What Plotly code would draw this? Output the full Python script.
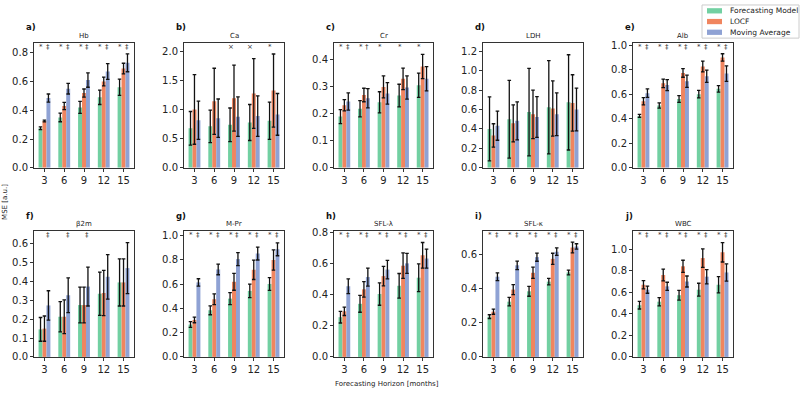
import plotly.graph_objects as go

horizons = ["3", "6", "9", "12", "15"]
series_names = ["Forecasting Model", "LOCF", "Moving Average"]
colors = ["#72d0a2", "#f0855f", "#8fa2d4"]

titles = ["Hb", "Ca", "Cr", "LDH", "Alb", "β2m", "M-Pr", "SFL-λ", "SFL-κ", "WBC"]
letters = ["a)", "b)", "c)", "d)", "e)", "f)", "g)", "h)", "i)", "j)"]

# mean values [model, locf, moving average] per panel
hb_fm = [0.275, 0.35, 0.42, 0.49, 0.56]
hb_locf = [0.325, 0.43, 0.52, 0.60, 0.69]
hb_ma = [0.485, 0.55, 0.61, 0.67, 0.73]
hb_fm_e = [0.01, 0.03, 0.042, 0.05, 0.056]
hb_locf_e = [0.006, 0.025, 0.028, 0.03, 0.037]
hb_ma_e = [0.028, 0.037, 0.05, 0.055, 0.062]

ca_fm = [0.68, 0.715, 0.74, 0.78, 0.81]
ca_locf = [1.005, 1.145, 1.20, 1.28, 1.33]
ca_ma = [0.82, 0.855, 0.88, 0.89, 0.92]
ca_fm_e = [0.29, 0.28, 0.29, 0.31, 0.32]
ca_locf_e = [0.60, 0.57, 0.57, 0.60, 0.63]
ca_ma_e = [0.33, 0.33, 0.34, 0.35, 0.36]

cr_fm = [0.19, 0.219, 0.243, 0.268, 0.306]
cr_locf = [0.232, 0.27, 0.30, 0.33, 0.376]
cr_ma = [0.246, 0.258, 0.276, 0.298, 0.33]
cr_fm_e = [0.026, 0.03, 0.039, 0.042, 0.045]
cr_locf_e = [0.021, 0.025, 0.041, 0.04, 0.045]
cr_ma_e = [0.032, 0.036, 0.04, 0.043, 0.045]

ldh_fm = [0.40, 0.50, 0.573, 0.623, 0.673]
ldh_locf = [0.333, 0.457, 0.55, 0.61, 0.667]
ldh_ma = [0.433, 0.483, 0.523, 0.55, 0.60]
ldh_fm_e = [0.33, 0.40, 0.45, 0.48, 0.49]
ldh_locf_e = [0.12, 0.19, 0.25, 0.285, 0.29]
ldh_ma_e = [0.15, 0.195, 0.21, 0.22, 0.22]

alb_fm = [0.424, 0.509, 0.562, 0.602, 0.645]
alb_locf = [0.544, 0.69, 0.775, 0.828, 0.902]
alb_ma = [0.61, 0.676, 0.708, 0.748, 0.77]
alb_fm_e = [0.012, 0.022, 0.027, 0.03, 0.027]
alb_locf_e = [0.03, 0.035, 0.035, 0.044, 0.03]
alb_ma_e = [0.035, 0.045, 0.05, 0.05, 0.063]

b2m_fm = [0.146, 0.213, 0.275, 0.335, 0.395]
b2m_locf = [0.15, 0.213, 0.275, 0.339, 0.395]
b2m_ma = [0.273, 0.327, 0.373, 0.425, 0.471]
b2m_fm_e = [0.063, 0.08, 0.095, 0.115, 0.125]
b2m_locf_e = [0.067, 0.09, 0.095, 0.12, 0.125]
b2m_ma_e = [0.078, 0.092, 0.103, 0.118, 0.135]

mpr_fm = [0.267, 0.385, 0.481, 0.545, 0.602]
mpr_locf = [0.305, 0.476, 0.62, 0.719, 0.80]
mpr_ma = [0.615, 0.722, 0.807, 0.853, 0.888]
mpr_fm_e = [0.024, 0.037, 0.05, 0.056, 0.053]
mpr_locf_e = [0.023, 0.044, 0.07, 0.08, 0.084]
mpr_ma_e = [0.03, 0.044, 0.053, 0.053, 0.053]

sfll_fm = [0.255, 0.341, 0.404, 0.457, 0.509]
sfll_locf = [0.293, 0.434, 0.519, 0.586, 0.653]
sfll_ma = [0.454, 0.513, 0.561, 0.601, 0.632]
sfll_fm_e = [0.037, 0.054, 0.072, 0.079, 0.089]
sfll_locf_e = [0.027, 0.05, 0.063, 0.082, 0.082]
sfll_ma_e = [0.047, 0.058, 0.059, 0.064, 0.061]

sflk_fm = [0.237, 0.325, 0.386, 0.443, 0.497]
sflk_locf = [0.266, 0.396, 0.495, 0.577, 0.644]
sflk_ma = [0.472, 0.539, 0.587, 0.619, 0.65]
sflk_fm_e = [0.011, 0.025, 0.029, 0.019, 0.014]
sflk_locf_e = [0.015, 0.029, 0.033, 0.033, 0.032]
sflk_ma_e = [0.023, 0.025, 0.024, 0.022, 0.016]

wbc_fm = [0.479, 0.512, 0.572, 0.623, 0.669]
wbc_locf = [0.669, 0.759, 0.84, 0.916, 0.97]
wbc_ma = [0.623, 0.654, 0.699, 0.744, 0.783]
wbc_fm_e = [0.035, 0.038, 0.045, 0.06, 0.075]
wbc_locf_e = [0.039, 0.054, 0.056, 0.086, 0.09]
wbc_ma_e = [0.033, 0.038, 0.051, 0.066, 0.08]

# significance markers per horizon: (vs LOCF, vs Moving Average)
sig_hb = ["*‡", "*‡", "*‡", "*‡", "*‡"]
sig_ca = ["  ", "  ", "× ", "× ", "* "]
sig_cr = ["*‡", "*†", "* ", "* ", "* "]
sig_ldh = ["  ", "  ", "  ", "  ", "  "]
sig_alb = ["*‡", "*‡", "*‡", "*‡", "*‡"]
sig_b2m = [" ‡", " ‡", " ‡", "  ", "  "]
sig_mpr = ["*‡", "*‡", "*‡", "*‡", "*‡"]
sig_sfll = ["*‡", "*‡", "*‡", "*‡", "*‡"]
sig_sflk = ["*‡", "*‡", "*‡", "*‡", "*‡"]
sig_wbc = ["*‡", "*‡", "*‡", "*‡", "*‡"]

yticks_step = [0.2, 0.5, 0.1, 0.2, 0.2, 0.1, 0.2, 0.2, 0.2, 0.2]
ymax = [0.868, 2.15, 0.463, 1.284, 1.02, 0.667, 1.038, 0.808, 0.74, 1.166]

panels = [
    (hb_fm, hb_locf, hb_ma, hb_fm_e, hb_locf_e, hb_ma_e, sig_hb),
    (ca_fm, ca_locf, ca_ma, ca_fm_e, ca_locf_e, ca_ma_e, sig_ca),
    (cr_fm, cr_locf, cr_ma, cr_fm_e, cr_locf_e, cr_ma_e, sig_cr),
    (ldh_fm, ldh_locf, ldh_ma, ldh_fm_e, ldh_locf_e, ldh_ma_e, sig_ldh),
    (alb_fm, alb_locf, alb_ma, alb_fm_e, alb_locf_e, alb_ma_e, sig_alb),
    (b2m_fm, b2m_locf, b2m_ma, b2m_fm_e, b2m_locf_e, b2m_ma_e, sig_b2m),
    (mpr_fm, mpr_locf, mpr_ma, mpr_fm_e, mpr_locf_e, mpr_ma_e, sig_mpr),
    (sfll_fm, sfll_locf, sfll_ma, sfll_fm_e, sfll_locf_e, sfll_ma_e, sig_sfll),
    (sflk_fm, sflk_locf, sflk_ma, sflk_fm_e, sflk_locf_e, sflk_ma_e, sig_sflk),
    (wbc_fm, wbc_locf, wbc_ma, wbc_fm_e, wbc_locf_e, wbc_ma_e, sig_wbc),
]

W, H = 800, 398
col_px = [(34, 134), (184, 284), (334, 433), (483, 583), (633, 733)]
row_px = [(40, 168), (233, 362)]

FONT = "DejaVu Sans"
fig = go.Figure()
annotations = []
shapes = []
xpos = list(range(len(horizons)))

for k, (fm, locf, ma, fm_e, locf_e, ma_e, sig) in enumerate(panels):
    n = k + 1
    r, c = divmod(k, 5)
    xs = "x" if n == 1 else f"x{n}"
    ys = "y" if n == 1 else f"y{n}"
    for s, (vals, errs) in enumerate([(fm, fm_e), (locf, locf_e), (ma, ma_e)]):
        fig.add_trace(go.Bar(
            x=xpos, y=vals, name=series_names[s], marker_color=colors[s],
            marker_line_width=0,
            error_y=dict(type="data", array=errs, color="#111111", thickness=1.3, width=1.8),
            xaxis=xs, yaxis=ys, showlegend=False,
        ))
    x0, x1 = col_px[c]
    y0, y1 = row_px[r]
    step = yticks_step[k]
    nt = int(ymax[k] / step + 1e-9) + 1
    axis_common = dict(showline=True, mirror=True, linecolor="#333333", linewidth=1,
                       ticks="outside", ticklen=3, tickwidth=0.8, tickcolor="#333333",
                       showgrid=False, zeroline=False,
                       tickfont=dict(family=FONT, size=10, color="#222222"))
    fig.layout[f"xaxis{'' if n == 1 else n}"] = dict(
        domain=[x0 / W, x1 / W], anchor=ys, range=[-0.53, 4.53],
        tickvals=xpos, ticktext=horizons, **axis_common)
    fig.layout[f"yaxis{'' if n == 1 else n}"] = dict(
        domain=[1 - y1 / H, 1 - y0 / H], anchor=xs, range=[0, ymax[k]],
        tickvals=[round(i * step, 3) for i in range(nt)], tickformat=".1f", **axis_common)
    # title
    annotations.append(dict(text=titles[k], xref="paper", yref="paper",
                            x=(x0 + x1) / 2 / W, y=1 - (y0 - 7) / H, xanchor="center", yanchor="middle",
                            showarrow=False, font=dict(family=FONT, size=7, color="#222222")))
    # panel letter
    annotations.append(dict(text=f"<b>{letters[k]}</b>", xref="paper", yref="paper",
                            x=(x0 - 10) / W, y=1 - (y0 - 16) / H, xanchor="left", yanchor="middle",
                            showarrow=False, font=dict(family=FONT, size=8.5, color="#111111")))
    # significance markers
    for i, pair in enumerate(sig):
        for j, ch in enumerate(pair):
            if ch.strip():
                annotations.append(dict(text=ch, xref=xs, yref=f"{ys} domain",
                                        x=i + (-0.17 if j == 0 else 0.17), y=1, yshift=-4,
                                        xanchor="center", yanchor="middle", showarrow=False,
                                        font=dict(family=FONT, size=7, color="#333333")))

# legend box (top right)
shapes.append(dict(type="rect", xref="paper", yref="paper",
                   x0=702 / W, x1=799 / W, y0=1 - 35 / H, y1=1 - 1 / H,
                   line=dict(color="#cccccc", width=1), fillcolor="white", layer="above"))
for s, name in enumerate(series_names):
    yc = 7 + 11 * s
    shapes.append(dict(type="rect", xref="paper", yref="paper",
                       x0=707 / W, x1=722 / W, y0=1 - (yc + 2.7) / H, y1=1 - (yc - 2.7) / H,
                       line=dict(width=0), fillcolor=colors[s], layer="above"))
    annotations.append(dict(text=name, xref="paper", yref="paper",
                            x=728 / W, y=1 - yc / H, xanchor="left", yanchor="middle",
                            showarrow=False, font=dict(family=FONT, size=7.5, color="#222222")))

annotations.append(dict(text="Forecasting Horizon [months]", xref="paper", yref="paper",
                        x=387 / W, y=1 - 390 / H, xanchor="center", yanchor="middle",
                        showarrow=False, font=dict(family=FONT, size=7, color="#222222")))
annotations.append(dict(text="MSE [a.u.]", xref="paper", yref="paper", textangle=-90,
                        x=5 / W, y=1 - 203 / H, xanchor="center", yanchor="middle",
                        showarrow=False, font=dict(family=FONT, size=7, color="#222222")))

fig.update_layout(
    width=W, height=H, margin=dict(l=0, r=0, t=0, b=0),
    paper_bgcolor="white", plot_bgcolor="white",
    barmode="group", bargap=0.4, bargroupgap=0,
    annotations=annotations, shapes=shapes,
    showlegend=False,
    font=dict(family=FONT),
)

fig.write_html("out.html")
